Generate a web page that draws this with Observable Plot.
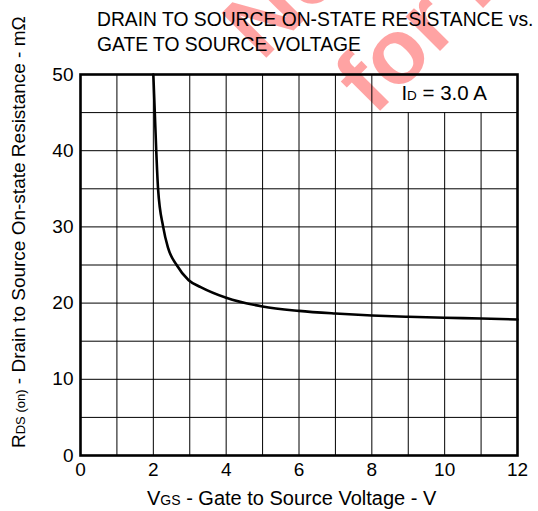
<!DOCTYPE html>
<html><head><meta charset="utf-8">
<script src="https://cdn.jsdelivr.net/npm/d3@7"></script>
<script src="https://cdn.jsdelivr.net/npm/@observablehq/plot@0.6"></script>
<style>
body{margin:0;background:#fff;font-family:"Liberation Sans",Arial,sans-serif;}
#wrap{position:relative;width:538px;height:511px;overflow:hidden;}
#chart{position:absolute;left:0;top:0;}
#title{position:absolute;left:97px;top:7px;font-size:19.3px;line-height:25px;color:#000;white-space:nowrap;}
</style></head><body>
<div id="wrap"><div id="chart"></div>
<div id="title">DRAIN TO SOURCE ON-STATE RESISTANCE vs.<br>GATE TO SOURCE VOLTAGE</div></div>
<script>
// data
const vgs = [2.0, 2.04, 2.08, 2.13, 2.27, 2.4, 2.64, 2.97, 3.3, 4, 5, 6, 7, 8, 9, 10, 11, 12];
const rdson = [50, 45, 40, 35, 30, 27.3, 25, 23, 22.1, 20.7, 19.55, 18.98, 18.63, 18.37, 18.2, 18.07, 17.98, 17.85];
const xTicks = [0, 2, 4, 6, 8, 10, 12];
const yTicks = [0, 10, 20, 30, 40, 50];
const xGridFull = [1, 2, 3, 4, 5, 6, 7, 8];
const xGridShort = [9, 10, 11];
const yGrid = [5, 10, 15, 20, 25, 30, 35, 40, 45];
const legendMain = "I", legendSub = "D", legendRest = " = 3.0 A";
const legendPos = {x: 10, y: 47.5};

const data = vgs.map((v, i) => ({vgs: v, r: rdson[i]}));

const chart = Plot.plot({
  width: 538, height: 511,
  marginLeft: 80, marginRight: 21, marginTop: 74, marginBottom: 56,
  style: {background: "transparent", fontFamily: "'Liberation Sans', Arial, sans-serif", fontSize: "19px", color: "#000"},
  x: {domain: [0, 12], ticks: xTicks, tickSize: 0, tickPadding: 7, label: null},
  y: {domain: [0, 50], ticks: yTicks, tickSize: 0, tickPadding: 7, label: null},
  marks: [
    Plot.gridX(xGridFull, {stroke: "#000", strokeOpacity: 1, strokeWidth: 1}),
    Plot.ruleX(xGridShort, {y1: 0, y2: 45, stroke: "#000", strokeWidth: 1}),
    Plot.gridY(yGrid, {stroke: "#000", strokeOpacity: 1, strokeWidth: 1}),
    Plot.line(data, {x: "vgs", y: "r", curve: "monotone-x", stroke: "#000", strokeWidth: 2.6}),
    Plot.frame({stroke: "#000", strokeWidth: 2.6})
  ]
});
document.getElementById("chart").appendChild(chart);

const svg = d3.select(chart);
const sx = chart.scale("x"), sy = chart.scale("y");

// watermark behind everything
const wm = svg.insert("g", ":first-child")
  .attr("fill", "#ff0000").attr("fill-opacity", 0.36).attr("text-anchor", "start")
  .attr("font-family", "'Liberation Sans', Arial, sans-serif").attr("font-weight", "bold").attr("font-size", 92);
wm.append("text").attr("transform", "translate(262,62) rotate(-45)").text("Not Recommended");
wm.append("text").attr("transform", "translate(374,117) rotate(-45)").text("for New Designs");

// legend label
const lt = svg.append("text")
  .attr("x", sx.apply(legendPos.x)).attr("y", sy.apply(legendPos.y)).attr("dy", "0.36em")
  .attr("text-anchor", "middle").attr("font-size", 20.5).attr("fill", "#000");
lt.append("tspan").text(legendMain);
lt.append("tspan").attr("font-size", 13.5).text(legendSub);
lt.append("tspan").text(legendRest);

// x axis label
const xl = svg.append("text").attr("x", 147).attr("y", 505).attr("text-anchor", "start").attr("font-size", 20).attr("fill", "#000");
xl.append("tspan").text("V");
xl.append("tspan").attr("font-size", 14).text("GS");
xl.append("tspan").text(" - Gate to Source Voltage - V");

// y axis label
const yl = svg.append("text").attr("transform", "translate(25,448) rotate(-90)").attr("text-anchor", "start").attr("font-size", 19).attr("fill", "#000");
yl.append("tspan").text("R");
yl.append("tspan").attr("font-size", 13).text("DS (on)");
yl.append("tspan").text(" - Drain to Source On-state Resistance - m\u03A9");
</script>
</body></html>
